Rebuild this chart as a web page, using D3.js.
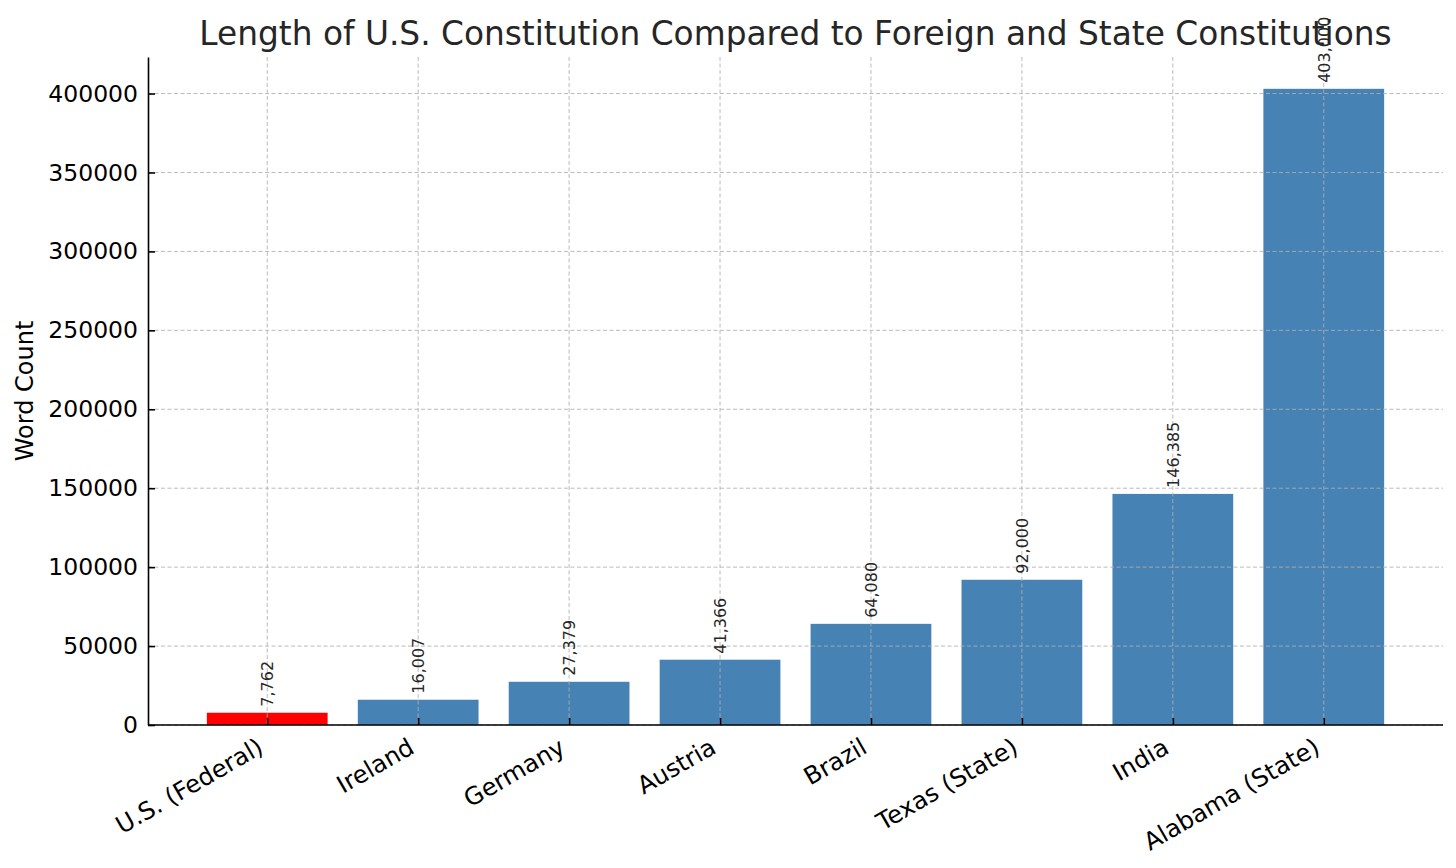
<!DOCTYPE html>
<html><head><meta charset="utf-8">
<script src="https://cdn.jsdelivr.net/npm/d3@7"></script>
<style>body{margin:0;background:#fff}svg{display:block}text{font-family:"DejaVu Sans",sans-serif}</style>
</head><body><svg id="c" width="1456" height="868"></svg>
<script>
const categories = ["U.S. (Federal)","Ireland","Germany","Austria","Brazil","Texas (State)","India","Alabama (State)"];
const wordCounts = [7762,16007,27379,41366,64080,92000,146385,403000];
const yTicks = [0,50000,100000,150000,200000,250000,300000,350000,400000];
const title = "Length of U.S. Constitution Compared to Foreign and State Constitutions";
const yLabel = "Word Count";

const svg = d3.select("#c");
const m = {l:148, r:1443, t:57, b:725};
const n = categories.length;
const x = d3.scaleLinear().domain([-0.79, n - 1 + 0.79]).range([m.l, m.r]);
const y = d3.scaleLinear().domain([0, 403000*1.05]).range([m.b, m.t]);
const bw = x(0.8) - x(0);

// bars
svg.append("g").selectAll("rect").data(wordCounts).join("rect")
  .attr("x",(d,i)=>x(i)-bw/2).attr("width",bw)
  .attr("y",d=>y(d)).attr("height",d=>y(0)-y(d))
  .attr("fill",(d,i)=>i===0?"#ff0000":"#4682b4");

// grid (drawn over bars)
const grid = svg.append("g").attr("stroke","#b0b0b0").attr("stroke-width",1).attr("stroke-dasharray","4,2.5").attr("opacity",0.85);
grid.selectAll("line.h").data(yTicks).join("line").attr("class","h")
  .attr("x1",m.l).attr("x2",m.r).attr("y1",d=>y(d)).attr("y2",d=>y(d));
grid.selectAll("line.v").data(categories).join("line").attr("class","v")
  .attr("x1",(d,i)=>x(i)).attr("x2",(d,i)=>x(i)).attr("y1",m.t).attr("y2",m.b);

// value labels
svg.append("g").selectAll("text").data(wordCounts).join("text")
  .attr("transform",(d,i)=>`translate(${x(i)+6},${y(d)-6}) rotate(-90)`)
  .attr("font-size",16).attr("fill","#262626")
  .text(d=>d3.format(",")(d));

// axes
const yAxis = d3.axisLeft(y).tickValues(yTicks).tickSizeInner(-7).tickSizeOuter(0).tickPadding(10).tickFormat(d3.format("d"));
const gy = svg.append("g").attr("transform",`translate(${m.l},0)`).call(yAxis);
gy.attr("font-size",null).attr("font-family",null);
gy.select(".domain").attr("stroke","#000").attr("stroke-width",1.6);
gy.selectAll(".tick line").attr("stroke","#000").attr("stroke-width",1.6);
gy.selectAll(".tick text").attr("fill","#000").style("font-size","23.5px").style("font-family","DejaVu Sans");

const xAxis = d3.axisBottom(x).tickValues(d3.range(n)).tickSizeInner(-7).tickSizeOuter(0).tickFormat(i=>categories[i]);
const gx = svg.append("g").attr("transform",`translate(0,${m.b})`).call(xAxis);
gx.attr("font-size",null).attr("font-family",null);
gx.select(".domain").attr("stroke","#000").attr("stroke-width",1.6).attr("d",`M${m.l},0H${m.r}`);
gx.selectAll(".tick line").attr("stroke","#000").attr("stroke-width",1.6);
gx.selectAll(".tick text").attr("fill","#000").style("font-size","24.3px").style("font-family","DejaVu Sans")
  .attr("text-anchor","end").attr("dy",null).attr("y",0)
  .attr("transform","translate(-12,11) rotate(-30)").attr("dominant-baseline","hanging");

// title & y label
svg.append("text").attr("x",(m.l+m.r)/2).attr("y",45).attr("text-anchor","middle")
  .style("font-size","32.8px").attr("fill","#262626").text(title);
svg.append("text").attr("transform",`translate(33,${(m.t+m.b)/2}) rotate(-90)`).attr("text-anchor","middle")
  .style("font-size","24px").attr("fill","#000").text(yLabel);
</script></body></html>
